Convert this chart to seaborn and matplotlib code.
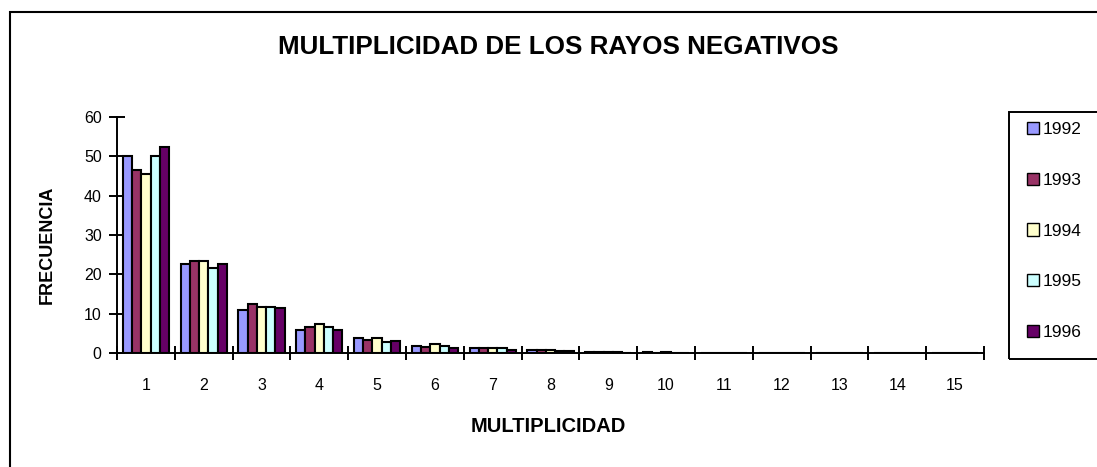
import matplotlib
matplotlib.use("Agg")
import matplotlib.pyplot as plt
import matplotlib.patches as mpatches
from matplotlib.ticker import FixedLocator, NullFormatter
import seaborn as sns
import pandas as pd

# ---- data ----
multiplicidad = [str(i) for i in range(1, 16)]
years = ["1992", "1993", "1994", "1995", "1996"]
v1992 = [50.0, 22.6, 10.9, 5.8, 3.9, 1.8, 1.3, 0.85, 0.3, 0.2, 0, 0, 0, 0, 0]
v1993 = [46.6, 23.5, 12.4, 6.7, 3.4, 1.5, 1.3, 0.85, 0.3, 0.0, 0, 0, 0, 0, 0]
v1994 = [45.6, 23.5, 11.8, 7.3, 3.9, 2.4, 1.3, 0.85, 0.3, 0.2, 0, 0, 0, 0, 0]
v1995 = [50.0, 21.5, 11.8, 6.7, 2.7, 1.7, 1.3, 0.4, 0.3, 0.0, 0, 0, 0, 0, 0]
v1996 = [52.3, 22.6, 11.4, 5.8, 3.0, 1.3, 0.8, 0.4, 0.0, 0.0, 0, 0, 0, 0, 0]
colors = ["#9999FF", "#993366", "#FFFFCC", "#CCFFFF", "#660066"]

series = dict(zip(years, [v1992, v1993, v1994, v1995, v1996]))
rows = []
for y, vals in series.items():
    for m, v in zip(multiplicidad, vals):
        rows.append({"MULTIPLICIDAD": m, "FRECUENCIA": v, "year": y})
df = pd.DataFrame(rows)

sns.set_style("white")
plt.rcParams["font.family"] = ["Liberation Sans", "DejaVu Sans"]
plt.rcParams.update({"text.color": "black", "axes.labelcolor": "black",
                     "xtick.color": "black", "ytick.color": "black"})

W, H = 1097, 467
fig = plt.figure(figsize=(W / 100, H / 100), dpi=100)
ax = fig.add_axes([117 / W, (H - 353) / H, (984 - 117) / W, (353 - 117) / H])

sns.barplot(data=df, x="MULTIPLICIDAD", y="FRECUENCIA", hue="year",
            order=multiplicidad, hue_order=years, palette=colors,
            edgecolor="black", linewidth=1.5, width=0.8, saturation=1,
            errorbar=None, ax=ax, legend=True)

ax.set_xlim(-0.5, len(multiplicidad) - 0.5)
ax.set_ylim(0, 60)
ax.set_yticks(range(0, 61, 10))
ax.set_yticklabels([str(t) for t in range(0, 61, 10)], fontsize=11.5)

# major ticks at category boundaries, labels at centers (minor)
ax.xaxis.set_major_locator(FixedLocator([i - 0.5 for i in range(len(multiplicidad) + 1)]))
ax.xaxis.set_major_formatter(NullFormatter())
ax.xaxis.set_minor_locator(FixedLocator(list(range(len(multiplicidad)))))
ax.set_xticklabels(multiplicidad, minor=True, fontsize=11.5)
ax.tick_params(axis="x", which="major", bottom=True, direction="inout",
               length=10, width=1.4, color="black")
ax.tick_params(axis="x", which="minor", bottom=True, length=0, pad=18)
ax.tick_params(axis="y", left=True, direction="inout", length=12, width=1.4,
               color="black", pad=5)

for s in ["top", "right"]:
    ax.spines[s].set_visible(False)
for s in ["left", "bottom"]:
    ax.spines[s].set_color("black")
    ax.spines[s].set_linewidth(1.4)

ax.set_xlabel("MULTIPLICIDAD", fontsize=14.5, fontweight="bold")
ax.xaxis.set_label_coords(0.497, -(427 - 353) / 236, transform=ax.transAxes)
ax.xaxis.label.set_va("center")
ax.set_ylabel("FRECUENCIA", fontsize=13, fontweight="bold")
ax.yaxis.set_label_coords(-(117 - 47) / 867, (353 - 245) / 236, transform=ax.transAxes)
ax.yaxis.label.set_va("center")

fig.text(558 / W, 1 - 47 / H, "MULTIPLICIDAD DE LOS RAYOS NEGATIVOS",
         ha="center", va="center", fontsize=18.7, fontweight="bold",
         family=["Liberation Sans Narrow", "Liberation Sans", "DejaVu Sans"])

# legend (entries) with a separate frame
handles, labels = ax.get_legend_handles_labels()
leg = ax.legend(handles, labels, loc="upper left",
                bbox_to_anchor=(1027 / W, 1 - 122 / H), bbox_transform=fig.transFigure,
                frameon=False, fontsize=12.5,
                handlelength=0.7, handleheight=0.7, handletextpad=0.2,
                labelspacing=2.05, borderpad=0.0, borderaxespad=0)
for p in leg.get_patches():
    p.set_linewidth(1.0)
    p.set_edgecolor("black")
fig.patches.append(mpatches.Rectangle((1009 / W, 1 - 359 / H), 0.2, (359 - 112) / H,
                                      transform=fig.transFigure, fill=False,
                                      edgecolor="black", linewidth=1.4))

# outer chart border
fig.patches.append(mpatches.Rectangle((10 / W, -0.1), 1.2, 1 - 12 / H + 0.1,
                                      transform=fig.transFigure, fill=False,
                                      edgecolor="black", linewidth=1.5))

fig.savefig("out.png", dpi=100)
